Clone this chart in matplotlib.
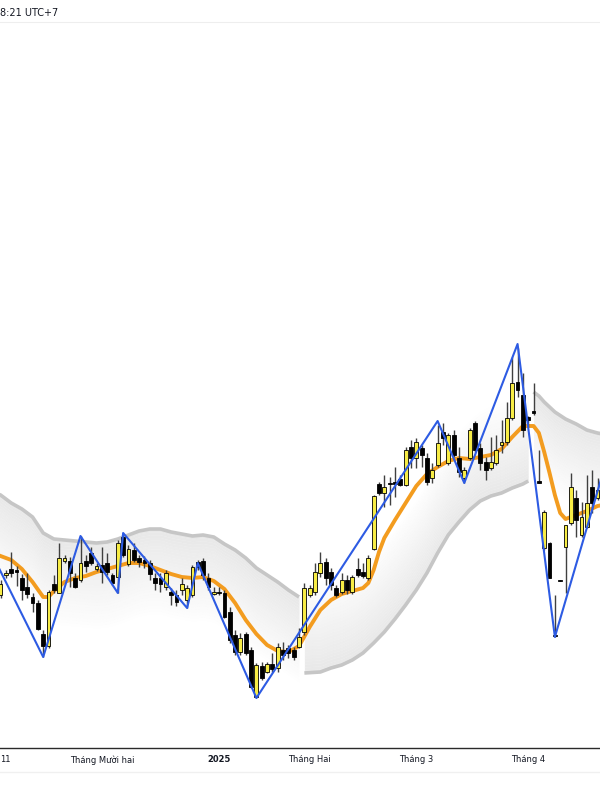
import matplotlib
matplotlib.use("Agg")
import matplotlib.pyplot as plt
import matplotlib.transforms as mtransforms
from matplotlib.lines import Line2D
import numpy as np

# Daily sessions, index 0 = first session of November 2024 (prices)
first_bar = 2
opens = [405, 425, 431, 430, 422, 413, 403, 397, 366, 354,
         416, 407, 439, 439, 422, 420, 439, 447, 431, 435,
         437, 425, 423, 463, 436, 450, 442, 440, 437, 422,
         422, 413, 408, 405, 410, 400, 405, 438, 439, 422,
         406, 408, 407, 388, 365, 348, 366, 350, 303, 334,
         328, 336, 332, 350, 352, 350, 353, 368, 405, 408,
         427, 438, 428, 412, 408, 420, 408, 431, 428, 422,
         451, 516, 507, 517, 518, 521, 515, 553, 542, 552,
         542, 522, 535, 568, 537, 565, 542, 522, 542, 577,
         552, 538, 532, 537, 555, 558, 582, 618, 605, 583,
         589, 519, 452, 457, 365, 420, 453, 477, 502, 465,
         473, 513, 502]
highs = [420, 430, 448, 434, 426, 427, 407, 400, 370, 410,
         425, 457, 445, 443, 427, 464, 445, 453, 437, 453,
         447, 427, 460, 467, 455, 457, 445, 444, 440, 427,
         427, 430, 412, 410, 422, 415, 435, 440, 442, 427,
         413, 413, 410, 393, 370, 367, 368, 353, 337, 338,
         338, 347, 357, 358, 355, 353, 372, 417, 415, 437,
         448, 442, 432, 415, 427, 425, 425, 442, 437, 445,
         505, 518, 525, 523, 533, 525, 553, 560, 562, 555,
         547, 537, 575, 577, 567, 570, 553, 533, 572, 579,
         557, 543, 563, 565, 580, 598, 643, 652, 627, 584,
         617, 550, 490, 458, 405, 420, 475, 527, 510, 498,
         525, 530, 522]
lows = [402, 422, 423, 414, 400, 402, 388, 370, 343, 352,
        407, 407, 437, 413, 412, 418, 428, 435, 429, 417,
        425, 415, 407, 443, 434, 438, 433, 432, 420, 410,
        408, 410, 395, 394, 405, 392, 403, 430, 420, 410,
        405, 405, 382, 357, 345, 345, 345, 312, 302, 320,
        327, 328, 328, 340, 342, 340, 352, 365, 403, 405,
        423, 415, 410, 403, 406, 406, 406, 423, 422, 420,
        450, 505, 493, 495, 503, 514, 514, 532, 532, 533,
        515, 517, 533, 555, 535, 543, 523, 517, 540, 548,
        530, 520, 530, 535, 547, 555, 580, 603, 563, 573,
        585, 517, 450, 422, 363, 419, 407, 475, 463, 463,
        472, 487, 500]
closes = [416, 427, 427, 428, 410, 406, 397, 371, 354, 408,
          410, 442, 442, 427, 413, 437, 434, 437, 434, 428,
          428, 417, 457, 445, 451, 440, 438, 437, 426, 417,
          416, 427, 405, 398, 416, 412, 433, 433, 425, 413,
          408, 407, 383, 360, 348, 362, 347, 313, 335, 322,
          336, 331, 353, 345, 347, 343, 363, 412, 412, 428,
          437, 422, 415, 405, 420, 410, 423, 425, 424, 442,
          504, 507, 513, 516, 516, 515, 550, 542, 558, 545,
          518, 530, 557, 562, 565, 545, 528, 530, 570, 550,
          537, 530, 538, 550, 558, 582, 617, 610, 570, 580,
          587, 517, 488, 422, 364, 419, 475, 513, 480, 483,
          497, 497, 510]

# moving average (orange), sampled along the line
ma_idx = [1, 2, 4, 6, 8, 10, 11, 12, 14, 16, 18, 20, 22, 24, 26, 28, 30, 32, 34, 36,
          38, 40, 42, 44, 46, 48, 50, 52, 54, 56, 58, 60, 62, 64, 66, 68, 70, 71, 72, 73,
          74, 76, 78, 80, 82, 84, 86, 88, 90, 92, 94, 96, 98, 100, 102, 103, 104, 105, 106, 107,
          108, 110, 112, 114, 115]
ma_val = [446, 444, 440, 431, 418, 403, 403, 409, 418, 422, 424, 428, 431, 434, 437, 437, 434, 430, 426, 423,
          422, 423, 419, 411, 397, 380, 366, 355, 349, 348, 354, 373, 390, 400, 406, 409, 412, 417, 430, 448,
          462, 480, 497, 514, 526, 533, 539, 542, 541, 543, 545, 551, 563, 574, 574, 567, 548, 527, 505, 487,
          481, 485, 489, 494, 495]

# trend band segments (grey line with fading fill)
upper1_idx = [1, 2, 4, 6, 8, 10, 12, 14, 16, 18, 20, 22, 24, 26, 28, 30, 32, 34, 36, 38,
              40, 42, 44, 46, 48, 50, 52, 54, 56, 58]
upper1_val = [507, 505, 497, 491, 483, 467, 461, 460, 459, 458, 457, 458, 461, 465, 469, 471, 471, 468, 466, 464,
              465, 463, 456, 450, 442, 432, 425, 418, 410, 403]
lower2_idx = [59, 62, 64, 66, 68, 70, 72, 74, 76, 78, 80, 82, 84, 86, 88, 90, 92, 94, 96, 98, 100, 101]
lower2_val = [327, 328, 332, 335, 340, 347, 357, 368, 381, 395, 410, 427, 447, 465, 478, 490, 499, 504, 507, 512,
              516, 519]
upper3_idx = [102, 103, 104, 106, 108, 110, 112, 114, 115]
upper3_val = [608, 604, 598, 588, 581, 576, 570, 567, 566]

# zigzag pivots (blue)
zz_idx = [0, 10, 17, 24, 25, 37, 39, 50, 84, 89, 99, 106, 116]
zz_val = [450, 343, 464, 407, 467, 392, 437, 302, 579, 517, 656, 363, 545]

# month labels at first session of each month (November label is cut by the frame)
month_idx = [21, 43, 60, 80, 101]
month_lbl = ["Tháng Mười hai", "2025", "Tháng Hai", "Tháng 3", "Tháng 4"]
nov_lbl = "11"

YELLOW = "#F7EC45"
ORANGE = "#F39C1F"
BLUE = "#2D5BE3"
BAND = "#c6c6c6"


def fading_fill(ax, idx, edge, depth, direction, steps=30):
    edge = np.asarray(edge, dtype=float)
    for k in range(steps):
        a = 0.55 * (1 - k / steps)
        y0 = edge + direction * depth * k / steps
        y1 = edge + direction * depth * (k + 1) / steps
        ax.fill_between(idx, y0, y1, color="#d6d6d6", alpha=a, linewidth=0, zorder=1)


def main() -> None:
    fig = plt.figure(figsize=(6, 8), dpi=100)
    fig.patch.set_facecolor("white")
    ax = fig.add_axes([0, 52 / 800, 1, 726 / 800])
    ax.set_facecolor("white")

    # band segments
    fading_fill(ax, upper1_idx, upper1_val, 85, -1)
    fading_fill(ax, lower2_idx, lower2_val, 90, 1)
    fading_fill(ax, upper3_idx, upper3_val, 80, -1)
    for idx, val in [(upper1_idx, upper1_val), (lower2_idx, lower2_val), (upper3_idx, upper3_val)]:
        ax.plot(idx, val, color=BAND, lw=2.6, solid_capstyle="butt", zorder=1.5)

    ax.plot(ma_idx, ma_val, color=ORANGE, lw=2.8, zorder=2)

    x = np.arange(first_bar, first_bar + len(opens))
    o = np.array(opens, dtype=float)
    h = np.array(highs, dtype=float)
    l = np.array(lows, dtype=float)
    c = np.array(closes, dtype=float)
    up = c >= o
    ax.vlines(x, l, h, color="#404040", lw=1.0, zorder=3)
    body_lo = np.minimum(o, c)
    body_h = np.maximum(np.abs(c - o), 0.9)
    colors = [YELLOW if u else "black" for u in up]
    ax.bar(x, body_h, bottom=body_lo, width=0.72, color=colors,
           edgecolor="black", linewidth=0.6, zorder=3.5)

    ax.plot(zz_idx, zz_val, color=BLUE, lw=1.5, zorder=4)

    ax.set_xlim(10.1 / 5.33, 610.1 / 5.33)
    ax.set_ylim(252, 978)
    ax.set_xticks([])
    ax.set_yticks([])
    for side in ["left", "right"]:
        ax.spines[side].set_visible(False)
    ax.spines["top"].set_color("#eeeeee")
    ax.spines["bottom"].set_color("#2a2a2a")
    ax.spines["bottom"].set_linewidth(1.0)

    trans = mtransforms.blended_transform_factory(ax.transData, fig.transFigure)
    for i, lbl in zip(month_idx, month_lbl):
        ax.text(i, 40 / 800, lbl, transform=trans, ha="center", va="center",
                fontsize=6, color="#131722",
                fontweight="bold" if lbl == "2025" else "normal", clip_on=False)
    fig.text(0.5 / 600, 40 / 800, nov_lbl, ha="left", va="center",
             fontsize=6, color="#131722")

    fig.add_artist(Line2D([0, 1], [28 / 800, 28 / 800], color="#f0f0f0", lw=1))
    fig.text(0.5 / 600, 1 - 13 / 800, "8:21 UTC+7", ha="left", va="center",
             fontsize=7, color="#131722")

    fig.savefig("out.png", dpi=100, facecolor="white")
    plt.close(fig)


if __name__ == "__main__":
    main()
